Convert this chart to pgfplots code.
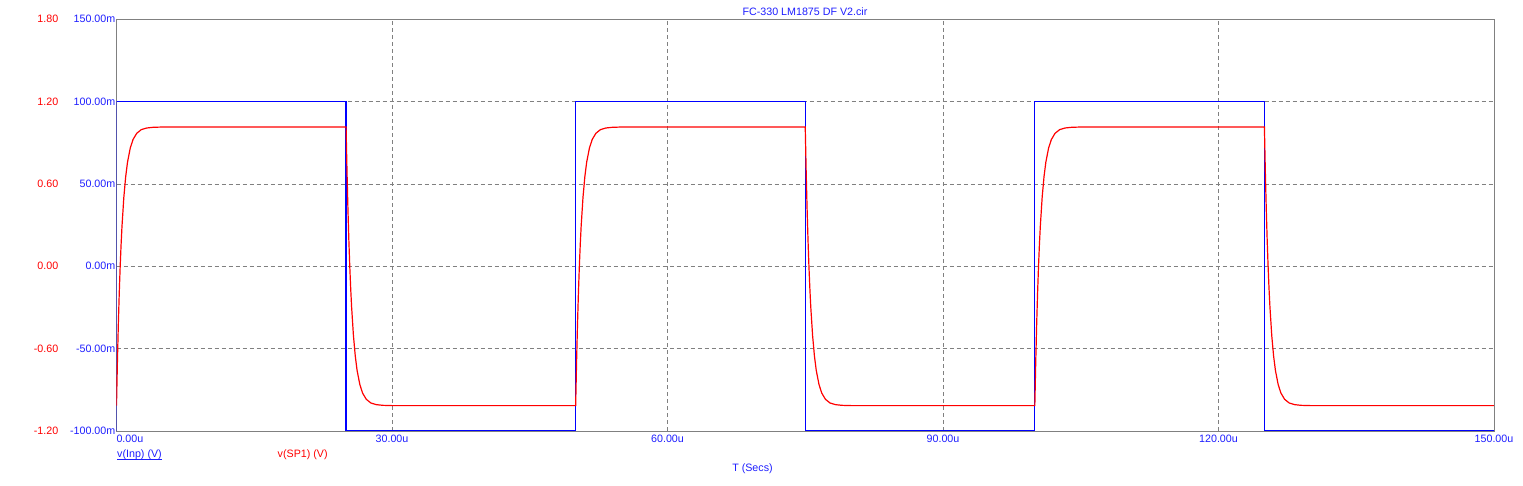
\documentclass[border=0pt]{standalone}
\usepackage{pgfplots}
\pgfplotsset{compat=1.18}
\usepackage{fontspec}
\setmainfont{Liberation Sans}
\definecolor{scblue}{RGB}{0,0,255}
\definecolor{scred}{RGB}{255,0,0}
\definecolor{scgrid}{RGB}{128,128,128}
\definecolor{sctext}{RGB}{30,30,255}
\begin{document}
\fontsize{10.7}{12}\selectfont
\begin{tikzpicture}
% blue axis (v(Inp)), with frame and grid
\begin{axis}[
  set layers=standard,
  at={(0pt,0pt)}, anchor=south west,
  scale only axis, width=1377.5pt, height=411.7pt,
  xmin=0, xmax=150, ymin=-0.1, ymax=0.15,
  xtick={0,30,60,90,120,150},
  xticklabels={\rlap{0.00u},30.00u,60.00u,90.00u,120.00u,150.00u},
  ytick={-0.1,-0.05,0,0.05,0.1,0.15},
  yticklabels={-100.00m,-50.00m,0.00m,50.00m,100.00m,150.00m},
  xticklabel style={font=\fontsize{10.7}{12}\selectfont\color{sctext}, anchor=north, inner sep=0pt, yshift=-4pt},
  yticklabel style={font=\fontsize{10.7}{12}\selectfont\color{sctext}, anchor=east, inner sep=0pt, xshift=-1pt},
  major tick length=0pt,
  tick style={draw=none},
  axis line style={scgrid, line width=0.9pt},
  grid=major,
  major grid style={scgrid, dash pattern=on 4pt off 3pt, line width=0.8pt},
  clip=true,
]
\addplot[scblue, line width=1.2pt] coordinates {
(0,-0.1)(0,0.1)(25,0.1)(25,-0.1)(50,-0.1)(50,0.1)(75,0.1)(75,-0.1)
(100,-0.1)(100,0.1)(125,0.1)(125,-0.1)(150,-0.1)
};
\end{axis}
% red axis (v(SP1))
\begin{axis}[
  at={(0pt,0pt)}, anchor=south west,
  scale only axis, width=1377.5pt, height=411.7pt,
  xmin=0, xmax=150, ymin=-1.2, ymax=1.8,
  xtick=\empty,
  ytick={-1.2,-0.6,0,0.6,1.2,1.8},
  yticklabels={-1.20,-0.60,0.00,0.60,1.20,1.80},
  yticklabel style={font=\fontsize{10.7}{12}\selectfont\color{scred}, anchor=east, inner sep=0pt, xshift=-58pt},
  major tick length=0pt,
  tick style={draw=none},
  axis line style={draw=none},
  clip=true,
]
\addplot[scred, line width=1.2pt] coordinates {
(0,-1.015)(0.1,-0.694)(0.2,-0.423)(0.3,-0.195)(0.4,-0.003)(0.5,0.158)(0.6,0.294)(0.8,0.504)(1.0,0.653)(1.2,0.759)(1.5,0.862)(1.8,0.924)(2.2,0.969)(2.7,0.996)(3.3,1.008)(4.0,1.013)(5.0,1.015)
(25,1.015)(25.1,0.694)(25.2,0.423)(25.3,0.195)(25.4,0.003)(25.5,-0.158)(25.6,-0.294)(25.8,-0.504)(26.0,-0.653)(26.2,-0.759)(26.5,-0.862)(26.8,-0.924)(27.2,-0.969)(27.7,-0.996)(28.3,-1.008)(29.0,-1.013)(30.0,-1.015)
(50,-1.015)(50.1,-0.694)(50.2,-0.423)(50.3,-0.195)(50.4,-0.003)(50.5,0.158)(50.6,0.294)(50.8,0.504)(51.0,0.653)(51.2,0.759)(51.5,0.862)(51.8,0.924)(52.2,0.969)(52.7,0.996)(53.3,1.008)(54.0,1.013)(55.0,1.015)
(75,1.015)(75.1,0.694)(75.2,0.423)(75.3,0.195)(75.4,0.003)(75.5,-0.158)(75.6,-0.294)(75.8,-0.504)(76.0,-0.653)(76.2,-0.759)(76.5,-0.862)(76.8,-0.924)(77.2,-0.969)(77.7,-0.996)(78.3,-1.008)(79.0,-1.013)(80.0,-1.015)
(100,-1.015)(100.1,-0.694)(100.2,-0.423)(100.3,-0.195)(100.4,-0.003)(100.5,0.158)(100.6,0.294)(100.8,0.504)(101.0,0.653)(101.2,0.759)(101.5,0.862)(101.8,0.924)(102.2,0.969)(102.7,0.996)(103.3,1.008)(104.0,1.013)(105.0,1.015)
(125,1.015)(125.1,0.694)(125.2,0.423)(125.3,0.195)(125.4,0.003)(125.5,-0.158)(125.6,-0.294)(125.8,-0.504)(126.0,-0.653)(126.2,-0.759)(126.5,-0.862)(126.8,-0.924)(127.2,-0.969)(127.7,-0.996)(128.3,-1.008)(129.0,-1.013)(130.0,-1.015)
(150,-1.015)
};
\end{axis}
% title, legend, axis title
\node[anchor=base, inner sep=0pt, text=sctext] at (688.5pt,415pt) {FC-330 LM1875 DF V2.cir};
\node[anchor=base west, inner sep=0pt, text=sctext] (l1) at (0.5pt,-26.5pt) {v(Inp) (V)};
\draw[sctext, line width=0.8pt] ([yshift=-1.8pt]l1.base west) -- ([yshift=-1.8pt]l1.base east);
\node[anchor=base west, inner sep=0pt, text=scred] at (161pt,-26.5pt) {v(SP1) (V)};
\node[anchor=base, inner sep=0pt, text=sctext] at (636pt,-40.7pt) {T (Secs)};
\path (-116.5pt,-55pt) rectangle (1406.5pt,431pt);
\end{tikzpicture}
\end{document}
